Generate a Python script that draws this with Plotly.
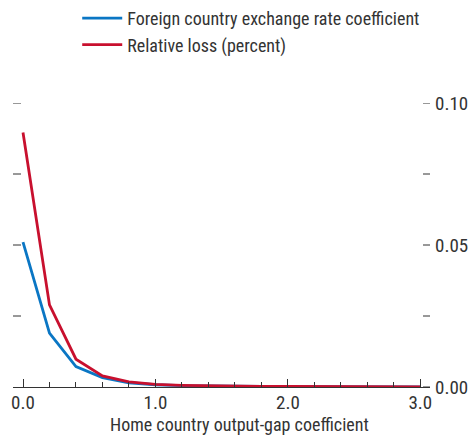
import plotly.graph_objects as go

x_vals = [0.0, 0.2, 0.4, 0.6, 0.8, 1.0, 1.2, 1.4, 1.6, 1.8, 2.0, 2.2, 2.4, 2.6, 2.8, 3.0]
exchange_coef = [0.051, 0.019, 0.0072, 0.0033, 0.0015, 0.0008, 0.0005, 0.00035, 0.00025,
                 0.0002, 0.00015, 0.00012, 0.0001, 0.00008, 0.00007, 0.00006]
relative_loss = [0.0896, 0.0289, 0.0098, 0.0039, 0.0018, 0.0009, 0.0006, 0.0004, 0.0003,
                 0.00022, 0.00017, 0.00013, 0.00011, 0.00009, 0.00008, 0.00007]
y_label_vals = [0.0, 0.05, 0.10]
y_label_text = ["0.00", "0.05", "0.10"]
y_tick_vals = [0.0, 0.025, 0.05, 0.075, 0.10]
x_tickvals = [0, 1, 2, 3]
x_ticktext = ["0.0", "1.0", "2.0", "3.0"]

FONT = "Liberation Sans Narrow, Roboto Condensed, Arial Narrow, sans-serif"
FS = 18
TFS = 19
TXT = "#333333"
BLUE = "#0a76c4"
RED = "#c8102e"

PLOT_W = 472 - 13 - 42  # plot-area width in px, used for tick lengths in paper units

fig = go.Figure()
fig.add_trace(go.Scatter(x=x_vals, y=exchange_coef, mode="lines",
                         name="Foreign country exchange rate coefficient",
                         line=dict(color=BLUE, width=2.8)))
fig.add_trace(go.Scatter(x=x_vals, y=relative_loss, mode="lines",
                         name="Relative loss (percent)",
                         line=dict(color=RED, width=2.8)))

# y-axis tick marks on both sides (inside), drawn from the tick list
shapes = []
for v in y_tick_vals:
    if v > 0:
        shapes.append(dict(type="line", xref="paper", yref="y", x0=0, x1=8 / PLOT_W,
                           y0=v, y1=v, line=dict(color=TXT, width=1), layer="above"))
    shapes.append(dict(type="line", xref="paper", yref="y", x0=1 - 7 / PLOT_W, x1=1,
                       y0=v, y1=v, line=dict(color=TXT, width=1), layer="above"))

fig.update_layout(
    width=472, height=442,
    margin=dict(l=13, r=42, t=103, b=55, autoexpand=False),
    paper_bgcolor="white", plot_bgcolor="white",
    font=dict(family=FONT, size=FS, color=TXT),
    showlegend=True,
    legend=dict(x=0.154, y=1.006, yref="container", xanchor="left", yanchor="top",
                font=dict(family=FONT, size=FS, color=TXT),
                bgcolor="rgba(0,0,0,0)", tracegroupgap=0, itemwidth=40),
    xaxis=dict(range=[-0.0755, 3.073], showgrid=False, zeroline=False,
               showline=True, linecolor=TXT, linewidth=1,
               tickvals=x_tickvals, ticktext=x_ticktext,
               ticks="inside", ticklen=8, tickcolor=TXT, tickwidth=1,
               ticklabelstandoff=-2,
               minor=dict(dtick=0.2, ticks="inside", ticklen=5, tickcolor=TXT, tickwidth=1),
               tickfont=dict(family=FONT, size=TFS, color=TXT)),
    yaxis=dict(range=[0, 0.1], side="right", showgrid=False, zeroline=False,
               showline=False, tickvals=y_label_vals, ticktext=y_label_text,
               ticks="", ticklabelstandoff=4,
               tickfont=dict(family=FONT, size=TFS, color=TXT)),
    shapes=shapes,
    annotations=[dict(text="Home country output-gap coefficient", xref="paper", yref="paper",
                      x=0.544, y=-0.088, xanchor="center", yanchor="top", showarrow=False,
                      font=dict(family=FONT, size=FS, color=TXT))],
)

fig.write_html("out.html", config={"displayModeBar": False},
               post_script="document.body.style.margin='0';document.body.style.overflow='hidden';")
